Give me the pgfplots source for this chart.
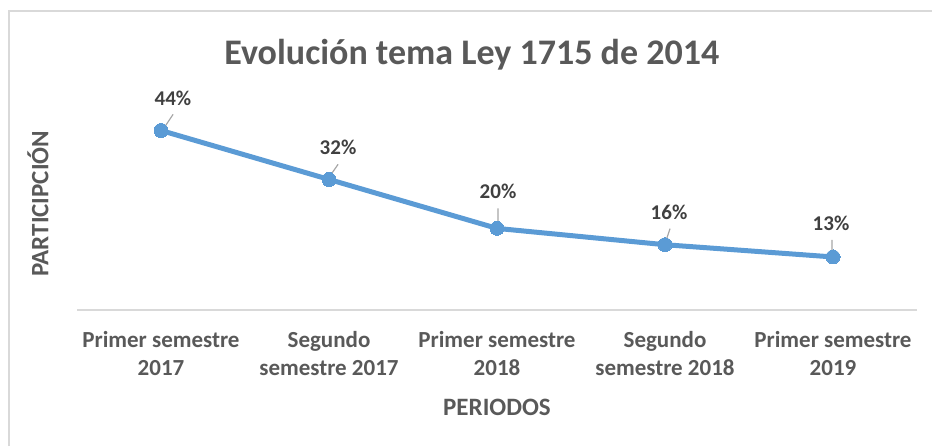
\documentclass[border=0pt]{standalone}
\usepackage{pgfplots}
\pgfplotsset{compat=1.18}
\usepackage{fontspec}
\setmainfont{Carlito}
\definecolor{serie}{HTML}{5B9BD5}
\definecolor{txt}{HTML}{595959}
\definecolor{lbl}{HTML}{404040}
\definecolor{rejilla}{HTML}{D9D9D9}
\definecolor{guia}{HTML}{A6A6A6}

% valores en %, desplazamiento de la etiqueta (pt)
\pgfplotstableread{
x y dx dy
0 44 12 32.5
1 32 9 32
2 20 1 37.5
3 16 4 32
4 13 -2 34
}\datos

\begin{document}
\begin{tikzpicture}
\begin{axis}[
    scale only axis,
    width=840pt, height=204pt,
    xmin=-0.5, xmax=4.5, ymin=0, ymax=50,
    clip=false,
    axis x line=bottom,
    axis y line=left,
    y axis line style={draw=none},
    x axis line style={-, draw=rejilla, line width=1.5pt},
    xtick={0,1,2,3,4},
    xticklabels={{Primer semestre\\2017},{Segundo\\semestre 2017},{Primer semestre\\2018},{Segundo\\semestre 2018},{Primer semestre\\2019}},
    major tick length=0pt,
    ytick=\empty,
    /pgf/number format/assume math mode=true,
    x tick label style={align=center, text=txt, font=\fontsize{23}{28}\selectfont\bfseries, yshift=-18pt},
    xlabel={PERIODOS},
    xlabel style={at={(axis description cs:0.5,-0.515)}, anchor=base, text=txt, font=\fontsize{25}{30}\selectfont\bfseries},
    ylabel={PARTICIPCIÓN},
    ylabel style={at={(axis description cs:-0.0464,0.52)}, anchor=center, text=txt, font=\fontsize{25}{30}\selectfont\bfseries},
    title={Evolución tema Ley 1715 de 2014},
    title style={at={(axis description cs:0.47,1.175)}, anchor=base, text=txt, font=\fontsize{36}{42}\selectfont\bfseries},
]
\coordinate (ll) at (rel axis cs:0,0);
\coordinate (ur) at (rel axis cs:1,1);
\addplot[serie, line width=5pt, mark=*, mark size=7pt, mark options={fill=serie, draw=serie, line width=0pt},
    visualization depends on={\thisrow{dx} \as \ddx},
    visualization depends on={\thisrow{dy} \as \ddy},
    nodes near coords={\pgfmathprintnumber{\pgfplotspointmeta}\%},
    every node near coord/.append style={anchor=center, inner sep=0pt, xshift=\ddx pt, yshift=\ddy pt,
        text=lbl, font=\fontsize{21}{25}\selectfont\bfseries},
    point meta=explicit]
    table[x=x, y=y, meta=y] {\datos};
% lineas guia de las etiquetas
\addplot[guia, line width=1.2pt, no marks, unbounded coords=jump] coordinates {
    (0.012,44.25) (0.072,47.95) (nan,nan)
    (1,32.5) (1.054,35.7) (nan,nan)
    (2.006,20) (2.006,24.9) (nan,nan)
    (3,16.25) (3.03,19.95) (nan,nan)
    (3.994,13.5) (3.994,17.2)
};
\end{axis}
\draw[rejilla, line width=1.5pt] ([shift={(-68pt,-136pt)}]ll) |- ([shift={(15pt,95pt)}]ur);
\pgfresetboundingbox
\path ([shift={(-77pt,-136pt)}]ll) rectangle ([shift={(15pt,106pt)}]ur);
\end{tikzpicture}
\end{document}
